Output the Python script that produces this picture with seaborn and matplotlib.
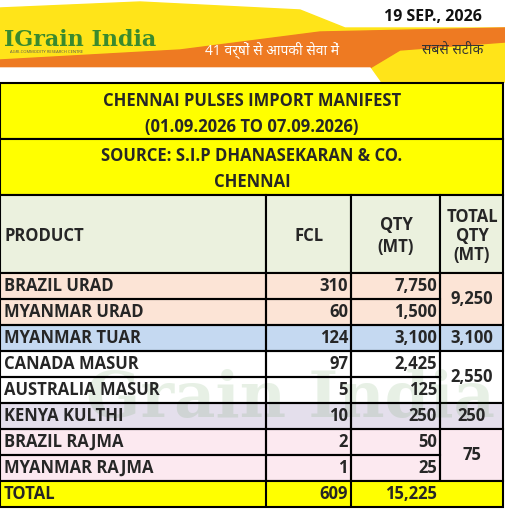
import matplotlib
matplotlib.use("Agg")
import matplotlib.pyplot as plt
import seaborn as sns
import numpy as np
from matplotlib.patches import Rectangle, Polygon

sns.set_theme(style="white")
plt.rcParams['font.family'] = ['Open Sans', 'Noto Sans', 'DejaVu Sans']

products = ["BRAZIL URAD", "MYANMAR URAD", "MYANMAR TUAR", "CANADA MASUR",
            "AUSTRALIA MASUR", "KENYA KULTHI", "BRAZIL RAJMA", "MYANMAR RAJMA"]
fcl = [310, 60, 124, 97, 5, 10, 2, 1]
qty = [7750, 1500, 3100, 2425, 125, 250, 50, 25]
group_totals = ["9,250", "3,100", "2,550", "250", "75"]
group_sizes = [2, 1, 2, 1, 2]
group_colors = ["#FCE4D6", "#C5D9F1", "#FFFFFF", "#E4DFEC", "#FCE9F0"]
total_fcl = "609"
total_qty = "15,225"

FS = 12
fig = plt.figure(figsize=(5.05, 5.09), dpi=100)
ax = fig.add_axes([0, 0, 1, 1])
ax.set_xlim(0, 505)
ax.set_ylim(509, 0)
ax.axis("off")

# banner
ax.add_patch(Rectangle((0, 0), 505, 82, color="white"))
ax.add_patch(Polygon([(0, 8), (140, 2), (300, 10), (345, 28), (505, 28), (505, 82), (0, 82)], color="#FFE419"))
ax.add_patch(Polygon([(0, 60), (180, 50), (320, 32), (505, 28), (505, 42), (400, 50), (370, 68), (0, 68)], color="#EE7A22"))
ax.add_patch(Polygon([(0, 68), (370, 68), (380, 82), (0, 82)], color="white"))
ax.text(4, 40, "IGrain India", fontsize=16, fontweight="bold", color="#3A8A2E", va="center", family="DejaVu Serif")
ax.text(10, 52, "AGRI-COMMODITY RESEARCH CENTRE", fontsize=3, color="#555", va="center")
ax.text(205, 50, "41 वर्षों से आपकी सेवा में", fontsize=10, color="white", va="center")
ax.text(422, 50, "सबसे सटीक", fontsize=10, color="#333", va="center")
ax.text(482, 17, "19 SEP., 2026", fontsize=11.5, fontweight="bold", color="#111", va="center", ha="right")

cols = [0, 266, 351, 440, 503]
lw = 1.5
ax.add_patch(Rectangle((0, 83), 503, 56, facecolor="#FFFF00", edgecolor="black", lw=lw))
ax.text(252, 101, "CHENNAI PULSES IMPORT MANIFEST", fontsize=FS, fontweight="bold", ha="center", va="center")
ax.text(252, 127, "(01.09.2026 TO 07.09.2026)", fontsize=FS, fontweight="bold", ha="center", va="center")
ax.add_patch(Rectangle((0, 139), 503, 56, facecolor="#FFFF00", edgecolor="black", lw=lw))
ax.text(252, 156, "SOURCE: S.I.P DHANASEKARAN & CO.", fontsize=FS, fontweight="bold", ha="center", va="center")
ax.text(252, 182, "CHENNAI", fontsize=FS, fontweight="bold", ha="center", va="center")

hy0, hy1 = 195, 273
for i in range(4):
    ax.add_patch(Rectangle((cols[i], hy0), cols[i+1]-cols[i], hy1-hy0, facecolor="#EBF1DE", edgecolor="black", lw=lw))
ax.text(4, 236, "PRODUCT", fontsize=FS, fontweight="bold", va="center", zorder=5)
ax.text(309, 236, "FCL", fontsize=FS, fontweight="bold", va="center", ha="center", zorder=5)
ax.text(396, 236, "QTY\n(MT)", fontsize=FS, fontweight="bold", va="center", ha="center", linespacing=1.35, zorder=5)
ax.text(472, 236, "TOTAL\nQTY\n(MT)", fontsize=FS, fontweight="bold", va="center", ha="center", linespacing=1.1, zorder=5)

rh = 26
y = hy1
r = 0
for g, n in enumerate(group_sizes):
    gy = y
    for k in range(n):
        ax.add_patch(Rectangle((0, y), cols[3], rh, facecolor=group_colors[g], edgecolor="none"))
        for i in range(3):
            ax.add_patch(Rectangle((cols[i], y), cols[i+1]-cols[i], rh, facecolor="none", edgecolor="black", lw=lw, zorder=4))
        ax.text(4, y + rh/2, products[r], fontsize=FS, fontweight="bold", va="center", zorder=5)
        ax.text(cols[2]-3, y + rh/2, f"{fcl[r]:,}", fontsize=FS, fontweight="bold", va="center", ha="right", zorder=5)
        ax.text(cols[3]-3, y + rh/2, f"{qty[r]:,}", fontsize=FS, fontweight="bold", va="center", ha="right", zorder=5)
        y += rh
        r += 1
    ax.add_patch(Rectangle((cols[3], gy), cols[4]-cols[3], y-gy, facecolor=group_colors[g], edgecolor="black", lw=lw))
    ax.text(472, (gy+y)/2, group_totals[g], fontsize=FS, fontweight="bold", va="center", ha="center", zorder=5)

ax.add_patch(Rectangle((0, y), 503, rh, facecolor="#FFFF00", edgecolor="black", lw=lw, zorder=4))
for i in range(1, 3):
    ax.plot([cols[i], cols[i]], [y, y+rh], color="black", lw=lw, zorder=4)
ax.text(4, y + rh/2, "TOTAL", fontsize=FS, fontweight="bold", va="center", zorder=5)
ax.text(cols[2]-3, y + rh/2, total_fcl, fontsize=FS, fontweight="bold", va="center", ha="right", zorder=5)
ax.text(cols[3]-3, y + rh/2, total_qty, fontsize=FS, fontweight="bold", va="center", ha="right", zorder=5)

ax.text(290, 400, "Grain India", fontsize=46, fontweight="bold", color="#3A8A2E", alpha=0.12,
        ha="center", va="center", family="DejaVu Serif", zorder=2)

fig.savefig("out.png", dpi=100)
